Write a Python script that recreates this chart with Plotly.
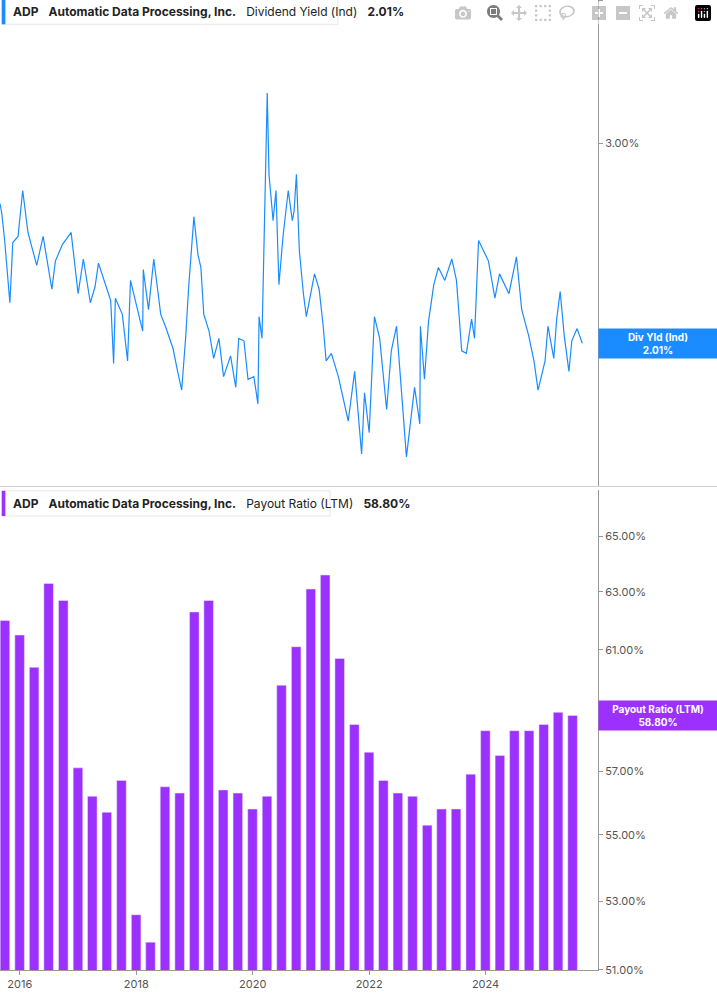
import numpy as np
import pandas as pd
import plotly.graph_objects as go
from plotly.subplots import make_subplots

# dividend yield (decimal year, %)
yield_years = [2015.66, 2015.69, 2015.74, 2015.83, 2015.88, 2015.97, 2016.05, 2016.14, 2016.29, 2016.40,
               2016.55, 2016.61, 2016.73, 2016.88, 2017.00, 2017.09, 2017.21, 2017.29, 2017.35, 2017.56,
               2017.61, 2017.64, 2017.76, 2017.85, 2017.90, 2018.02, 2018.11, 2018.12, 2018.21, 2018.30,
               2018.42, 2018.50, 2018.63, 2018.71, 2018.78, 2018.85, 2018.90, 2018.99, 2019.06, 2019.11,
               2019.16, 2019.25, 2019.33, 2019.42, 2019.50, 2019.62, 2019.71, 2019.76, 2019.85, 2019.92,
               2020.02, 2020.09, 2020.11, 2020.16, 2020.19, 2020.25, 2020.28, 2020.35, 2020.40, 2020.45,
               2020.52, 2020.61, 2020.68, 2020.71, 2020.75, 2020.80, 2020.87, 2020.92, 2021.06, 2021.14,
               2021.21, 2021.26, 2021.35, 2021.47, 2021.64, 2021.75, 2021.87, 2021.92, 2022.00, 2022.09,
               2022.18, 2022.30, 2022.38, 2022.47, 2022.59, 2022.64, 2022.78, 2022.87, 2022.88, 2022.95,
               2023.02, 2023.11, 2023.19, 2023.30, 2023.42, 2023.50, 2023.59, 2023.67, 2023.76, 2023.81,
               2023.88, 2023.97, 2024.05, 2024.16, 2024.24, 2024.40, 2024.53, 2024.62, 2024.74, 2024.83,
               2024.90, 2025.02, 2025.07, 2025.17, 2025.22, 2025.28, 2025.35, 2025.43, 2025.48, 2025.57,
               2025.66]
yield_pct = [2.66, 2.61, 2.47, 2.18, 2.46, 2.49, 2.73, 2.51, 2.35, 2.49,
             2.24, 2.37, 2.45, 2.51, 2.22, 2.38, 2.18, 2.25, 2.36, 2.19,
             1.93, 2.20, 2.13, 1.94, 2.28, 2.15, 2.06, 2.33, 2.15, 2.38,
             2.13, 2.08, 1.99, 1.90, 1.83, 2.04, 2.25, 2.59, 2.40, 2.34,
             2.13, 2.06, 1.95, 2.03, 1.88, 1.96, 1.84, 2.03, 2.02, 1.87,
             1.88, 1.78, 2.12, 2.03, 2.36, 3.32, 2.82, 2.57, 2.73, 2.26,
             2.49, 2.73, 2.57, 2.62, 2.82, 2.42, 2.22, 2.12, 2.31, 2.24,
             2.08, 1.94, 1.97, 1.88, 1.72, 1.90, 1.61, 1.82, 1.68, 2.12,
             2.03, 1.76, 1.98, 2.08, 1.73, 1.60, 1.84, 1.71, 2.08, 1.87,
             2.10, 2.26, 2.34, 2.28, 2.38, 2.28, 1.98, 1.97, 2.11, 2.03,
             2.47, 2.42, 2.37, 2.20, 2.31, 2.22, 2.39, 2.15, 2.04, 1.94,
             1.83, 1.94, 2.08, 1.95, 2.11, 2.23, 2.04, 1.90, 2.02, 2.07,
             2.01]

# payout ratio (LTM), quarterly
payout_pct = [62.0, 61.5, 60.4, 63.3, 62.7, 57.1, 56.2, 55.7, 56.7, 52.6,
              51.8, 56.5, 56.3, 62.3, 62.7, 56.4, 56.3, 55.8, 56.2, 59.8,
              61.1, 63.1, 63.6, 60.7, 58.5, 57.6, 56.7, 56.3, 56.2, 55.3,
              55.8, 55.8, 56.9, 58.3, 57.5, 58.3, 58.3, 58.5, 58.9, 58.8]
payout_dates = pd.date_range("2015-09-30", periods=len(payout_pct), freq="QE")

top_ticks = [2, 3, 4]
bottom_ticks = [51, 53, 55, 57, 61, 63, 65]
year_ticks = [2016, 2018, 2020, 2022, 2024]


def to_date(y):
    yr = int(y)
    start = pd.Timestamp(f"{yr}-01-01")
    return start + (pd.Timestamp(f"{yr + 1}-01-01") - start) * (y - yr)


yield_dates = [to_date(y) for y in yield_years]

BLUE = "#1a8cff"
PURPLE = "#9b30ff"
FONT = "Inter"

fig = make_subplots(rows=2, cols=1, shared_xaxes=True, vertical_spacing=0.004,
                    row_heights=[0.503, 0.497])

fig.add_trace(go.Scatter(x=yield_dates, y=yield_pct, mode="lines",
                         line=dict(color=BLUE, width=1.2), showlegend=False), row=1, col=1)
fig.add_trace(go.Bar(x=payout_dates, y=payout_pct, marker_color=PURPLE, width=1000 * 3600 * 24 * 60,
                     showlegend=False), row=2, col=1)

xr = [to_date(2015.66), to_date(2025.93)]
for r in (1, 2):
    fig.update_xaxes(range=xr, showgrid=False, zeroline=False, row=r, col=1)
fig.update_xaxes(tickvals=[pd.Timestamp(f"{y}-01-01") for y in year_ticks],
                 ticktext=[str(y) for y in year_ticks], ticks="outside", ticklen=4,
                 tickcolor="#999", showline=True, linecolor="#999", row=2, col=1)

fig.update_yaxes(type="log", side="right", range=[np.log10(1.51), np.log10(4.0)],
                 tickvals=top_ticks, ticktext=[f"{v:.2f}%" for v in top_ticks],
                 showgrid=False, ticks="outside", ticklen=4, tickcolor="#999",
                 showline=True, linecolor="#999", row=1, col=1)
fig.update_yaxes(type="log", side="right", range=[np.log10(51), np.log10(66.7)],
                 tickvals=bottom_ticks, ticktext=[f"{v:.2f}%" for v in bottom_ticks],
                 showgrid=False, ticks="outside", ticklen=4, tickcolor="#999",
                 showline=True, linecolor="#999", row=2, col=1)

# separator between panels
fig.add_shape(type="line", xref="paper", yref="paper", x0=0, x1=1.2, y0=0.4985, y1=0.4985,
              line=dict(color="#ccc", width=1))

# header boxes
headers = [(0.988, BLUE, "<b>ADP</b>   <b>Automatic Data Processing, Inc.</b>   Dividend Yield (Ind)   <b>2.01%</b>", 0.565),
           (0.481, PURPLE, "<b>ADP</b>   <b>Automatic Data Processing, Inc.</b>   Payout Ratio (LTM)   <b>58.80%</b>", 0.552)]
for y, col, txt, w in headers:
    fig.add_shape(type="rect", xref="paper", yref="paper", x0=0.003, x1=w, y0=y - 0.013, y1=y + 0.013,
                  line=dict(color="#e6e6e6", width=1), fillcolor="white")
    fig.add_shape(type="rect", xref="paper", yref="paper", x0=0.003, x1=0.009, y0=y - 0.013, y1=y + 0.013,
                  line=dict(width=0), fillcolor=col)
    fig.add_annotation(xref="paper", yref="paper", x=0.018, y=y, xanchor="left", yanchor="middle",
                       text=txt, showarrow=False, font=dict(size=12, color="#222", family=FONT))

# last value tags on the right axis
fig.add_annotation(xref="paper", yref="y", x=1.0, y=np.log10(2.01), xanchor="left", yanchor="middle",
                   text="<b>Div Yld (Ind)<br>2.01%</b>", showarrow=False, bgcolor=BLUE, width=114,
                   align="center", font=dict(size=10, color="white", family=FONT), borderpad=2)
fig.add_annotation(xref="paper", yref="y2", x=1.0, y=np.log10(58.8), xanchor="left", yanchor="middle",
                   text="<b>Payout Ratio (LTM)<br>58.80%</b>", showarrow=False, bgcolor=PURPLE, width=114,
                   align="center", font=dict(size=10, color="white", family=FONT), borderpad=2)

fig.update_layout(width=717, height=1005, margin=dict(l=0, r=119, t=0, b=35),
                  plot_bgcolor="white", paper_bgcolor="white", bargap=0.2,
                  font=dict(family=FONT, size=11, color="#555"))

fig.write_html("out.html", post_script="document.body.style.margin='0';")
